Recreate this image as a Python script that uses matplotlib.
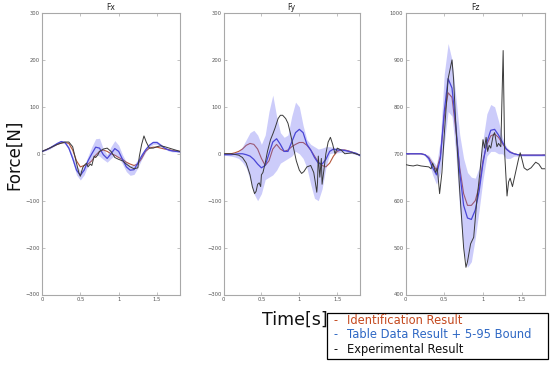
import numpy as np
import matplotlib
matplotlib.use("Agg")
import matplotlib.pyplot as plt
from matplotlib.patches import Rectangle

# ---------------- data ----------------
t_grid = [0, .05, .1, .15, .2, .25, .3, .35, .4, .45, .5, .55, .6, .65, .7, .75, .8, .85, .9,
          .95, 1.0, 1.05, 1.1, 1.15, 1.2, 1.25, 1.3, 1.35, 1.4, 1.45, 1.5, 1.55, 1.6, 1.65,
          1.7, 1.75, 1.8]

# Fx
fx_blue = [5, 8, 12, 17, 22, 26, 24, 12, -10, -35, -46, -35, -15, 0, 14, 12, -2, -10, 0, 11,
           5, -12, -28, -35, -34, -20, -5, 8, 18, 24, 24, 18, 12, 8, 6, 5, 4]
fx_hi = [6, 9, 14, 19, 24, 28, 27, 16, -4, -25, -36, -26, -5, 15, 32, 33, 10, -2, 15, 28,
         18, -2, -18, -25, -24, -12, 2, 12, 21, 27, 27, 21, 14, 10, 8, 6, 5]
fx_lo = [4, 7, 10, 15, 20, 24, 21, 8, -16, -45, -56, -45, -25, -12, -2, -5, -12, -18, -10, -3,
         -8, -22, -38, -46, -44, -30, -12, 3, 14, 20, 20, 15, 10, 6, 4, 4, 3]
fx_red = [5, 8, 12, 16, 20, 23, 24, 22, 8, -15, -28, -25, -22, -15, -3, 5, 8, 5, 0, -3,
          -8, -12, -18, -22, -25, -22, -10, 5, 12, 14, 14, 12, 10, 9, 7, 6, 5]
fx_exp_t = [0, .1, .2, .3, .35, .4, .45, .48, .5, .53, .55, .58, .6, .63, .65, .68, .7, .73,
            .75, .8, .85, .9, .95, 1.0, 1.05, 1.1, 1.15, 1.2, 1.25, 1.27, 1.3, 1.33, 1.36,
            1.4, 1.45, 1.5, 1.55, 1.6, 1.7, 1.8]
fx_exp = [5, 12, 20, 25, 25, 15, -20, -40, -48, -30, -25, -20, -28, -22, -25, -5, -8, -2,
          5, 10, 12, 5, -8, -12, -15, -22, -28, -32, -30, -5, 20, 38, 25, 12, 12, 15, 17,
          15, 10, 5]

# Fy
fy_blue = [-2, -2, -2, -1, 0, 0, -2, -5, -12, -22, -30, -25, 0, 25, 32, 20, 5, 5, 25, 45,
           52, 45, 20, 8, -8, -20, -22, -12, 5, 10, 8, 8, 7, 5, 3, 1, -4]
fy_red = [0, 0, 0, 2, 5, 10, 18, 22, 20, 10, -10, -25, -15, 10, 20, 10, 5, 8, 15, 20,
          24, 24, 18, 8, -5, -18, -25, -28, -20, -5, 5, 8, 8, 6, 3, 0, -3]
fy_hi = [-1, 0, 0, 2, 5, 15, 30, 45, 50, 40, 20, 40, 90, 125, 80, 45, 35, 40, 80, 110,
         100, 60, 30, 20, 15, 10, 12, 15, 15, 14, 12, 11, 10, 8, 5, 2, 0]
fy_lo = [-3, -4, -5, -7, -10, -18, -30, -55, -85, -100, -85, -55, -50, -45, -35, -20, -15,
         -10, -5, 5, 0, -10, -30, -65, -95, -100, -75, -30, 0, 2, 2, 3, 3, 2, 0, -2, -5]
fy_exp_t = [0, .1, .2, .25, .3, .35, .38, .41, .43, .45, .47, .49, .5, .52, .55, .58, .62,
            .65, .68, .72, .75, .78, .82, .85, .88, .92, .96, 1.0, 1.03, 1.06, 1.1, 1.15,
            1.19, 1.21, 1.23, 1.24, 1.25, 1.27, 1.29, 1.3, 1.32, 1.35, 1.38, 1.41, 1.44,
            1.47, 1.5, 1.55, 1.6, 1.7, 1.8]
fy_exp = [0, 0, -3, -8, -20, -45, -70, -85, -80, -65, -62, -70, -45, -40, -20, 5, 30, 42,
          55, 75, 82, 82, 75, 65, 45, 15, -15, -35, -42, -38, -28, -25, -40, -60, -82, -60,
          -5, -50, -10, -65, -40, 0, 25, 35, 20, 0, 12, 8, 0, 2, -3]

# Fz
fz_blue = [700, 700, 700, 700, 700, 698, 690, 670, 655, 690, 790, 860, 840, 760, 660, 590,
           563, 560, 580, 620, 680, 725, 750, 752, 740, 725, 710, 703, 700, 698, 697, 697,
           697, 697, 697, 697, 697]
fz_red = [700, 700, 700, 700, 700, 698, 692, 678, 665, 695, 780, 830, 820, 750, 670, 615,
          590, 590, 600, 630, 685, 720, 738, 742, 735, 722, 710, 704, 700, 698, 697, 697,
          697, 697, 697, 697, 697]
fz_hi = [701, 701, 701, 701, 701, 700, 697, 685, 675, 730, 870, 935, 900, 820, 740, 690,
         660, 650, 648, 670, 730, 785, 805, 800, 770, 735, 715, 707, 702, 700, 699, 699,
         699, 699, 699, 699, 699]
fz_lo = [699, 699, 699, 699, 699, 696, 683, 655, 635, 660, 720, 790, 780, 700, 580, 490,
         458, 470, 520, 580, 645, 695, 705, 705, 700, 700, 690, 690, 695, 695, 695, 695,
         695, 695, 695, 695, 695]
fz_exp_t = [0, .05, .1, .15, .2, .25, .3, .33, .35, .37, .39, .41, .44, .47, .5, .55, .6,
            .62, .65, .7, .75, .78, .8, .84, .88, .92, .96, 1.0, 1.02, 1.04, 1.06, 1.08,
            1.1, 1.13, 1.15, 1.18, 1.2, 1.23, 1.26, 1.28, 1.31, 1.33, 1.35, 1.38, 1.42,
            1.46, 1.48, 1.5, 1.53, 1.57, 1.62, 1.68, 1.72, 1.76, 1.8]
fz_exp = [677, 675, 674, 676, 674, 673, 672, 668, 680, 670, 660, 670, 615, 660, 740, 860,
          900, 860, 760, 620, 500, 458, 470, 508, 522, 600, 660, 730, 712, 735, 705, 718,
          712, 738, 745, 715, 722, 715, 920, 700, 610, 640, 648, 630, 660, 690, 702, 690,
          670, 665, 670, 682, 678, 668, 668]

titles = ["Fx", "Fy", "Fz"]
y_limits = [(-300, 300), (-300, 300), (400, 1000)]
x_ticks = [0, 0.5, 1, 1.5]
x_tick_labels = ["0", "0.5", "1", "1.5"]
legend_labels = ["Identification Result", "Table Data Result + 5-95 Bound",
                 "Experimental Result"]

panels = [
    (fx_red, fx_blue, fx_lo, fx_hi, fx_exp_t, fx_exp),
    (fy_red, fy_blue, fy_lo, fy_hi, fy_exp_t, fy_exp),
    (fz_red, fz_blue, fz_lo, fz_hi, fz_exp_t, fz_exp),
]

# ---------------- figure ----------------
W, H = 550, 365
fig = plt.figure(figsize=(W / 100, H / 100), dpi=100)

lefts = [42, 223.5, 405.5]
widths = [138, 136.5, 139.5]
top_px, bot_px = 13, 294.5

red_c = "#b5553a"
blue_c = "#4a46d6"
band_c = (0.38, 0.38, 0.95)
black_c = "#3a3a3a"
spine_c = "#a8a8a8"

for i, (red, blue, lo, hi, et, ev) in enumerate(panels):
    ax = fig.add_axes([lefts[i] / W, (H - bot_px) / H, widths[i] / W, (bot_px - top_px) / H])
    ax.plot(t_grid, red, color=red_c, lw=0.8, zorder=2)
    ax.fill_between(t_grid, lo, hi, color=band_c, alpha=0.32, lw=0, zorder=3)
    ax.plot(t_grid, blue, color=blue_c, lw=0.9, zorder=4)
    ax.plot(et, ev, color=black_c, lw=0.7, zorder=5)
    ax.set_xlim(0, 1.8)
    ax.set_ylim(*y_limits[i])
    ax.set_xticks(x_ticks)
    ax.set_xticklabels(x_tick_labels)
    lo_y, hi_y = y_limits[i]
    ax.set_yticks(np.arange(lo_y, hi_y + 1, 100))
    ax.tick_params(direction="in", length=2, width=0.5, colors=spine_c,
                   labelsize=3.8, labelcolor="#555555", top=True, right=True, pad=1.5)
    for s in ax.spines.values():
        s.set_color(spine_c)
        s.set_linewidth(0.8)
    ax.set_title(titles[i], fontsize=5.5, pad=2, color="#222222")

fig.text(14 / W, 1 - 155 / H, "Force[N]", rotation=90, ha="center", va="center",
         fontsize=12, color="#111111")
fig.text(295 / W, 1 - 320 / H, "Time[s]", ha="center", va="center",
         fontsize=12.5, color="#111111")

# legend box
fig.patches.append(Rectangle((327 / W, 1 - 359 / H), (548 - 327) / W, (359 - 312.5) / H,
                             transform=fig.transFigure, fill=False, edgecolor="black",
                             linewidth=0.9))
leg_colors = ["#c4491e", "#2f68c4", "#111111"]
leg_y = [321, 335, 349.5]
for lab, c, y in zip(legend_labels, leg_colors, leg_y):
    fig.text(334 / W, 1 - y / H, "-", color=c, fontsize=8.3, ha="left", va="center")
    fig.text(347 / W, 1 - y / H, lab, color=c, fontsize=8.3, ha="left", va="center")

fig.savefig("out.png", dpi=100)
